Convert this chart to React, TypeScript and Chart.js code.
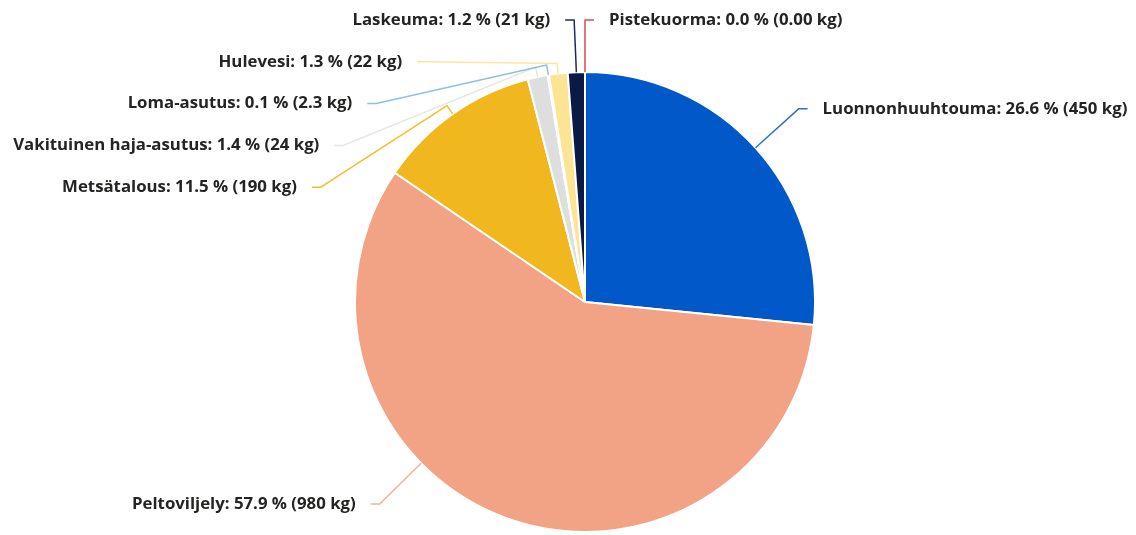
import React, { useEffect, useRef } from "react";
import { Chart, registerables } from "chart.js";

Chart.register(...registerables);

const categories = [
  "Luonnonhuuhtouma",
  "Peltoviljely",
  "Metsätalous",
  "Vakituinen haja-asutus",
  "Loma-asutus",
  "Hulevesi",
  "Laskeuma",
  "Pistekuorma",
];
const percents = [26.6, 57.9, 11.5, 1.4, 0.1, 1.3, 1.2, 0.0];
const kgLabels = ["450 kg", "980 kg", "190 kg", "24 kg", "2.3 kg", "22 kg", "21 kg", "0.00 kg"];
const sliceColors = [
  "#0058C9",
  "#F2A385",
  "#F0B81E",
  "#DEDEDE",
  "#A9CDEA",
  "#FCE592",
  "#0A1A45",
  "#D1343F",
];
const lineColors = [
  "#2F6FD0",
  "#F4B19A",
  "#EFC02E",
  "#E4E4E4",
  "#8FC0E4",
  "#FBE79E",
  "#1C2B5A",
  "#D64A55",
];

const FONT = "bold 16.8px 'Open Sans'";
const TEXT_COLOR = "#252423";

const leaderPlugin = {
  id: "leaders",
  afterDatasetsDraw(chart: any) {
    const ctx: CanvasRenderingContext2D = chart.ctx;
    const meta = chart.getDatasetMeta(0);
    const H = chart.height;
    const topY = 20;
    const botY = H - 31;
    const spacing = 41.8;
    const ext = 58;

    const items = meta.data.map((arc: any, i: number) => {
      const p = arc.getProps(["x", "y", "startAngle", "endAngle", "outerRadius"], true);
      const mid = (p.startAngle + p.endAngle) / 2;
      const R2 = p.outerRadius + ext;
      const nat = { x: p.x + R2 * Math.cos(mid), y: p.y + R2 * Math.sin(mid) };
      const side = Math.cos(mid) > -1e-6 ? 1 : -1;
      return { i, cx: p.x, cy: p.y, r: p.outerRadius, mid, R2, nat, side, elbow: { x: 0, y: 0 }, anchorAngle: mid };
    });

    [1, -1].forEach((side) => {
      const group = items.filter((it: any) => it.side === side).sort((a: any, b: any) => a.nat.y - b.nat.y);
      let prev = -Infinity;
      group.forEach((it: any) => {
        let y = it.nat.y;
        let mode = "natural";
        if (y < topY) {
          y = topY;
          mode = "top";
        }
        if (y > botY) {
          y = botY;
          mode = "bottom";
        }
        if (y < prev + spacing) {
          y = prev + spacing;
          mode = "pushed";
        }
        prev = y;
        const dy = y - it.cy;
        const dx = Math.sqrt(Math.max(it.R2 * it.R2 - dy * dy, 0)) * side;
        if (mode === "top" || mode === "natural") {
          it.elbow = { x: it.nat.x, y };
        } else {
          it.elbow = { x: it.cx + dx, y };
        }
        if (mode === "bottom") {
          it.anchorAngle = Math.atan2(dy, dx);
        }
      });
    });

    ctx.save();
    ctx.lineWidth = 1.5;
    ctx.lineJoin = "round";
    ctx.font = FONT;
    ctx.textBaseline = "middle";
    items.forEach((it: any) => {
      const a = it.anchorAngle;
      const p0 = { x: it.cx + it.r * Math.cos(a), y: it.cy + it.r * Math.sin(a) };
      const p1 = { x: it.cx + (it.r + 10) * Math.cos(a), y: it.cy + (it.r + 10) * Math.sin(a) };
      const e = it.elbow;
      const hEnd = e.x + it.side * 9;
      ctx.strokeStyle = lineColors[it.i];
      ctx.beginPath();
      ctx.moveTo(p0.x, p0.y);
      ctx.lineTo(p1.x, p1.y);
      ctx.lineTo(e.x, e.y);
      ctx.lineTo(hEnd, e.y);
      ctx.stroke();

      const text = `${categories[it.i]}: ${percents[it.i].toFixed(1)} % (${kgLabels[it.i]})`;
      ctx.fillStyle = TEXT_COLOR;
      ctx.textAlign = it.side > 0 ? "left" : "right";
      ctx.fillText(text, hEnd + it.side * 15, e.y);
    });
    ctx.restore();
  },
};

export default function App() {
  const canvasRef = useRef<HTMLCanvasElement | null>(null);

  useEffect(() => {
    document.body.style.margin = "0";
    const canvas = canvasRef.current;
    if (!canvas) return;
    const chart = new Chart(canvas, {
      type: "pie",
      data: {
        labels: categories,
        datasets: [
          {
            data: percents,
            backgroundColor: sliceColors,
            borderColor: "#ffffff",
            borderWidth: 2,
          },
        ],
      },
      options: {
        animation: false,
        responsive: false,
        maintainAspectRatio: false,
        layout: { padding: { top: 71, bottom: 2, left: 34, right: 0 } },
        plugins: {
          legend: { display: false },
          tooltip: { enabled: false },
        },
      },
      plugins: [leaderPlugin],
    });
    return () => chart.destroy();
  }, []);

  return (
    <div style={{ position: "fixed", left: 0, top: 0, width: 1136, height: 535, background: "#ffffff" }}>
      <canvas ref={canvasRef} width={1136} height={535} style={{ width: 1136, height: 535, display: "block" }} />
    </div>
  );
}
